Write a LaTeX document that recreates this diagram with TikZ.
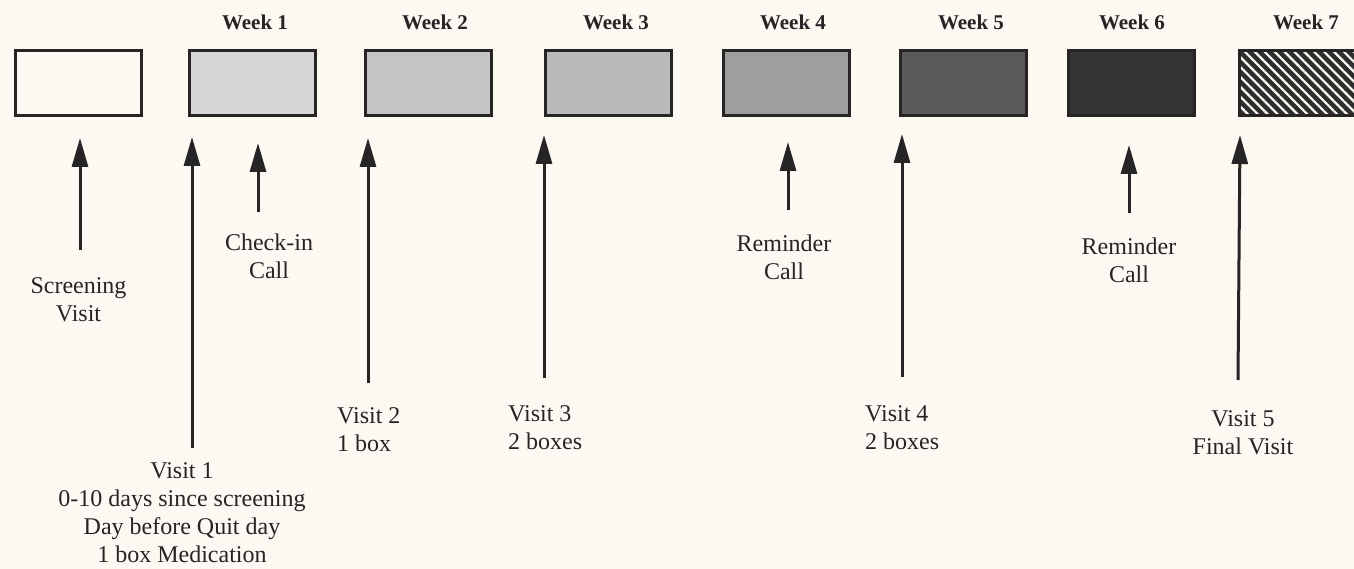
\documentclass[tikz,border=0pt]{standalone}
\usepackage{fontspec}
\setmainfont{Liberation Serif}
\usetikzlibrary{arrows.meta,patterns.meta}
\definecolor{paper}{RGB}{251,249,242}
\definecolor{ink}{RGB}{38,36,36}
\begin{document}
\begin{tikzpicture}[x=1pt,y=-1pt,
  wkbox/.style={draw=ink,line width=3pt,minimum width=126pt,minimum height=65pt,inner sep=0pt},
  wklabel/.style={anchor=base,inner sep=0pt,text=ink,font=\fontsize{21}{25}\selectfont\bfseries},
  lbl/.style={inner sep=0pt,text=ink,font=\fontsize{24}{28}\selectfont,align=center,anchor=north},
  lbll/.style={inner sep=0pt,text=ink,font=\fontsize{24}{28}\selectfont,align=left,anchor=north west},
  evarrow/.style={draw=ink,line width=3pt,-{Triangle[length=29pt,width=16pt]}}
]
\useasboundingbox (0,0) rectangle (1354,569);
\fill[paper] (0,0) rectangle (1354,569);
\clip (0,0) rectangle (1354,569);

% boxes
\node[wkbox,fill=paper] (b0) at (78.5,83) {};
\node[wkbox,fill=black!16] (b1) at (252.5,83) {};
\node[wkbox,fill=black!23] (b2) at (428,83) {};
\node[wkbox,fill=black!27] (b3) at (608,83) {};
\node[wkbox,fill=black!38] (b4) at (786,83) {};
\node[wkbox,fill=black!65] (b5) at (963.5,83) {};
\node[wkbox,fill=black!80] (b6) at (1131,83) {};
\node[wkbox,preaction={fill=black!82},pattern={Lines[angle=-45,distance=7pt,line width=2.2pt]},pattern color=paper] (b7) at (1302,83) {};

% week labels
\node[wklabel] (w1) at (255,30) {Week 1};
\node[wklabel] (w2) at (435,30) {Week 2};
\node[wklabel] (w3) at (616,30) {Week 3};
\node[wklabel] (w4) at (793,30) {Week 4};
\node[wklabel] (w5) at (971,30) {Week 5};
\node[wklabel] (w6) at (1132,30) {Week 6};
\node[wklabel] (w7) at (1306,30) {Week 7};

% arrow ends
\coordinate (svT) at (80,250);   \coordinate (svH) at (80,138);
\coordinate (v1T) at (192,448);  \coordinate (v1H) at (192,137);
\coordinate (ciT) at (258,212);  \coordinate (ciH) at (258,143);
\coordinate (v2T) at (368,383);  \coordinate (v2H) at (368,138);
\coordinate (v3T) at (544,378);  \coordinate (v3H) at (544,135);
\coordinate (r1T) at (788,210);  \coordinate (r1H) at (788,142);
\coordinate (v4T) at (902,377);  \coordinate (v4H) at (902,134);
\coordinate (r2T) at (1129,213); \coordinate (r2H) at (1129,145);
\coordinate (v5T) at (1238,380); \coordinate (v5H) at (1240,135);

\draw[evarrow] (svT) -- (svH);
\draw[evarrow] (v1T) -- (v1H);
\draw[evarrow] (ciT) -- (ciH);
\draw[evarrow] (v2T) -- (v2H);
\draw[evarrow] (v3T) -- (v3H);
\draw[evarrow] (r1T) -- (r1H);
\draw[evarrow] (v4T) -- (v4H);
\draw[evarrow] (r2T) -- (r2H);
\draw[evarrow] (v5T) -- (v5H);

% labels
\node[lbl] (sv) at (78.5,277) {Screening\\Visit};
\node[lbl] (ci) at (269,234) {Check-in\\Call};
\node[lbl] (r1) at (784,235) {Reminder\\Call};
\node[lbl] (r2) at (1129,238) {Reminder\\Call};
\node[lbl] (v1) at (182,462) {Visit 1\\0-10 days since screening\\Day before Quit day\\1 box Medication};
\node[lbll] (v2) at (337,407) {Visit 2\\1 box};
\node[lbll] (v3) at (508,405) {Visit 3\\2 boxes};
\node[lbll] (v4) at (865,405) {Visit 4\\2 boxes};
\node[lbl] (v5) at (1243,410) {Visit 5\\Final Visit};
\end{tikzpicture}
\end{document}
